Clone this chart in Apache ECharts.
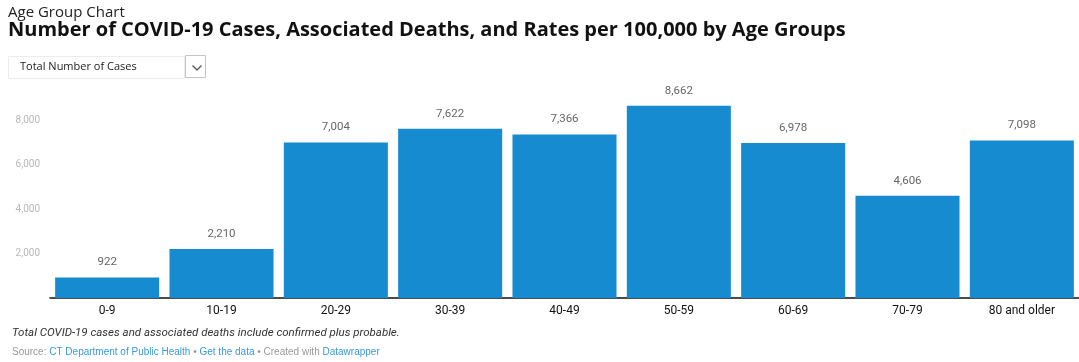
<!DOCTYPE html>
<html>
<head>
<meta charset="utf-8">
<script src="https://cdn.jsdelivr.net/npm/echarts@6/dist/echarts.min.js"></script>
<style>
    html, body { margin: 0; padding: 0; background: #fff; }
    #chart { width: 1079px; height: 362px; }
</style>
</head>
<body>
<div id="chart"></div>
<script>
    // age groups and case counts
    var ageGroups = ['0-9', '10-19', '20-29', '30-39', '40-49', '50-59', '60-69', '70-79', '80 and older'];
    var caseCounts = [922, 2210, 7004, 7622, 7366, 8662, 6978, 4606, 7098];
    var yTicks = [2000, 4000, 6000, 8000];

    var barColor = '#168bcf';
    var fontFam = 'Roboto, "Open Sans", sans-serif';

    function fmt(v) {
        return String(v).replace(/\B(?=(\d{3})+(?!\d))/g, ',');
    }

    var myChart = echarts.init(document.getElementById('chart'));
    var option = {
        animation: false,
        textStyle: { fontFamily: fontFam },
        title: [
            {
                text: 'Age Group Chart',
                left: 8, top: 5, padding: 0,
                textStyle: { fontSize: 15, fontWeight: 'normal', color: '#222', fontFamily: '"Open Sans", sans-serif' }
            },
            {
                text: 'Number of COVID-19 Cases, Associated Deaths, and Rates per 100,000 by Age Groups',
                left: 8, top: 20, padding: 0,
                textStyle: { fontSize: 20, fontWeight: 'bold', color: '#111', fontFamily: '"Open Sans", sans-serif' }
            }
        ],
        graphic: [
            // dropdown box
            {
                type: 'rect', left: 8, top: 56,
                shape: { width: 176, height: 22 },
                style: { fill: '#fff', stroke: '#ececec', lineWidth: 1 }
            },
            {
                type: 'text', left: 20, top: 61,
                style: { text: 'Total Number of Cases', fontSize: 11, fill: '#222', fontFamily: '"Open Sans", sans-serif' }
            },
            {
                type: 'rect', left: 185, top: 55,
                shape: { width: 20, height: 22 },
                style: { fill: '#fff', stroke: '#c4c4c4', lineWidth: 1 }
            },
            {
                type: 'polyline', left: 190, top: 63,
                shape: { points: [[0, 0], [4.5, 4.5], [9, 0]] },
                style: { stroke: '#555', lineWidth: 1.3, fill: null }
            },
            // footer
            {
                type: 'text', left: 12, top: 327,
                style: {
                    text: 'Total COVID-19 cases and associated deaths include confirmed plus probable.',
                    fontSize: 11.5, fontStyle: 'italic', fill: '#333', fontFamily: fontFam
                }
            },
            {
                type: 'text', left: 12, top: 347,
                style: {
                    text: '{g|Source: }{b|CT Department of Public Health}{g| • }{b|Get the data}{g| • Created with }{b|Datawrapper}',
                    fontSize: 10, fontFamily: fontFam,
                    rich: {
                        g: { fill: '#999', fontSize: 10 },
                        b: { fill: '#3a9ad6', fontSize: 10 }
                    }
                }
            }
        ],
        grid: {
            left: 50,
            top: 76,
            width: 1038,
            bottom: 64
        },
        xAxis: {
            type: 'category',
            data: ageGroups,
            axisLine: { show: true, lineStyle: { color: '#111', width: 1.5 } },
            axisTick: { show: false },
            axisLabel: { color: '#111', fontSize: 12, margin: 7, interval: 0 }
        },
        yAxis: {
            type: 'value',
            min: 0,
            max: 10000,
            interval: 2000,
            splitLine: { show: false },
            axisLine: { show: false },
            axisTick: { show: false },
            axisLabel: {
                color: '#b8b8b8',
                fontSize: 10,
                margin: 10,
                formatter: function (v) {
                    return yTicks.indexOf(v) >= 0 ? fmt(v) : '';
                }
            }
        },
        series: [
            {
                type: 'bar',
                data: caseCounts,
                barCategoryGap: '9%',
                itemStyle: { color: barColor },
                label: {
                    show: true,
                    position: 'top',
                    distance: 9,
                    color: '#666',
                    fontSize: 11.5,
                    formatter: function (p) { return fmt(p.value); }
                }
            }
        ]
    };
    myChart.setOption(option, true);
</script>
</body>
</html>
